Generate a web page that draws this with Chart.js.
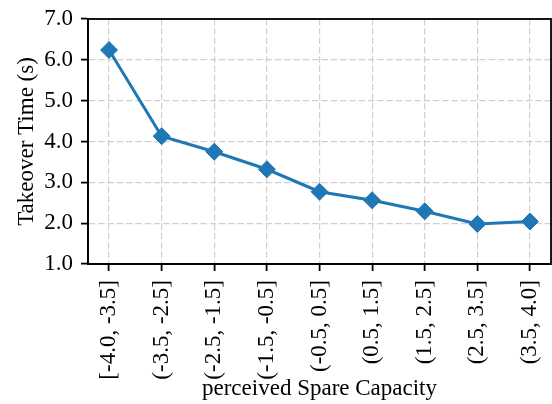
<!DOCTYPE html>
<html>
<head>
<meta charset="utf-8">
<script src="https://cdn.jsdelivr.net/npm/chart.js@4/dist/chart.umd.min.js"></script>
<style>
  html, body { margin: 0; padding: 0; background: #fff; }
  #wrap { width: 552px; height: 404px; }
</style>
</head>
<body>
<div id="wrap"><canvas id="c" width="552" height="404"></canvas></div>
<script>
// Spare-capacity bins and mean takeover time per bin
const categories = ['[-4.0, -3.5]', '(-3.5, -2.5]', '(-2.5, -1.5]', '(-1.5, -0.5]', '(-0.5, 0.5]', '(0.5, 1.5]', '(1.5, 2.5]', '(2.5, 3.5]', '(3.5, 4.0]'];
const takeoverTime = [6.24, 4.13, 3.75, 3.32, 2.77, 2.56, 2.29, 1.98, 2.04];
const yTicks = [1.0, 2.0, 3.0, 4.0, 5.0, 6.0, 7.0];

const FONT = { family: "'Liberation Serif', 'DejaVu Serif', serif", size: 23 };
const GRID = '#d0d0d0';

// closed black frame around the plotting area
const frame = {
  id: 'frame',
  afterDraw(chart) {
    const { ctx, chartArea: a } = chart;
    ctx.save();
    ctx.strokeStyle = '#000';
    ctx.lineWidth = 1.8;
    ctx.setLineDash([]);
    ctx.strokeRect(a.left, a.top, a.right - a.left, a.bottom - a.top);
    ctx.restore();
  }
};

const noPad = (s) => { s.paddingLeft = 0; s.paddingRight = 0; s.paddingTop = 0; s.paddingBottom = 0; };

new Chart(document.getElementById('c'), {
  type: 'line',
  data: {
    datasets: [{
      data: takeoverTime.map((v, i) => ({ x: i, y: v })),
      borderColor: '#1f77b4',
      backgroundColor: '#1f77b4',
      borderWidth: 3,
      pointStyle: 'rectRot',
      pointRadius: 8.5,
      pointHoverRadius: 8.5,
      pointBorderWidth: 1,
      pointBorderColor: '#1f77b4',
      pointBackgroundColor: '#1f77b4',
      tension: 0,
      fill: false,
      clip: false
    }]
  },
  options: {
    responsive: false,
    animation: false,
    events: [],
    layout: { autoPadding: false, padding: { top: 19, right: 1, left: 0, bottom: 0 } },
    plugins: { legend: { display: false }, tooltip: { enabled: false } },
    scales: {
      x: {
        type: 'linear',
        min: -0.4,
        max: 8.4,
        afterBuildTicks: (s) => { s.ticks = categories.map((_, i) => ({ value: i })); },
        afterFit: (s) => { s.height = 140; noPad(s); },
        ticks: {
          autoSkip: false,
          minRotation: 90,
          maxRotation: 90,
          padding: 9,
          color: '#000',
          font: FONT,
          callback: (v) => categories[v]
        },
        grid: {
          color: GRID,
          lineWidth: 1.2,
          tickLength: 7,
          tickColor: '#000',
          tickWidth: 1.8
        },
        border: { display: true, color: '#000', width: 1.8, dash: [6.5, 2.8] },
        title: {
          display: true,
          text: 'perceived Spare Capacity',
          color: '#000',
          font: FONT,
          padding: { top: 0, bottom: 1 }
        }
      },
      y: {
        min: 1,
        max: 7,
        afterBuildTicks: (s) => { s.ticks = yTicks.map(v => ({ value: v })); },
        afterFit: (s) => { s.width = 88; noPad(s); },
        ticks: {
          padding: 8,
          color: '#000',
          font: FONT,
          callback: (v) => v.toFixed(1)
        },
        grid: {
          color: GRID,
          lineWidth: 1.2,
          tickLength: 7,
          tickColor: '#000',
          tickWidth: 1.8
        },
        border: { display: true, color: '#000', width: 1.8, dash: [6.5, 2.8] },
        title: {
          display: true,
          text: 'Takeover Time (s)',
          color: '#000',
          font: FONT,
          padding: { top: 13, bottom: 0 }
        }
      }
    }
  },
  plugins: [frame]
});
</script>
</body>
</html>
